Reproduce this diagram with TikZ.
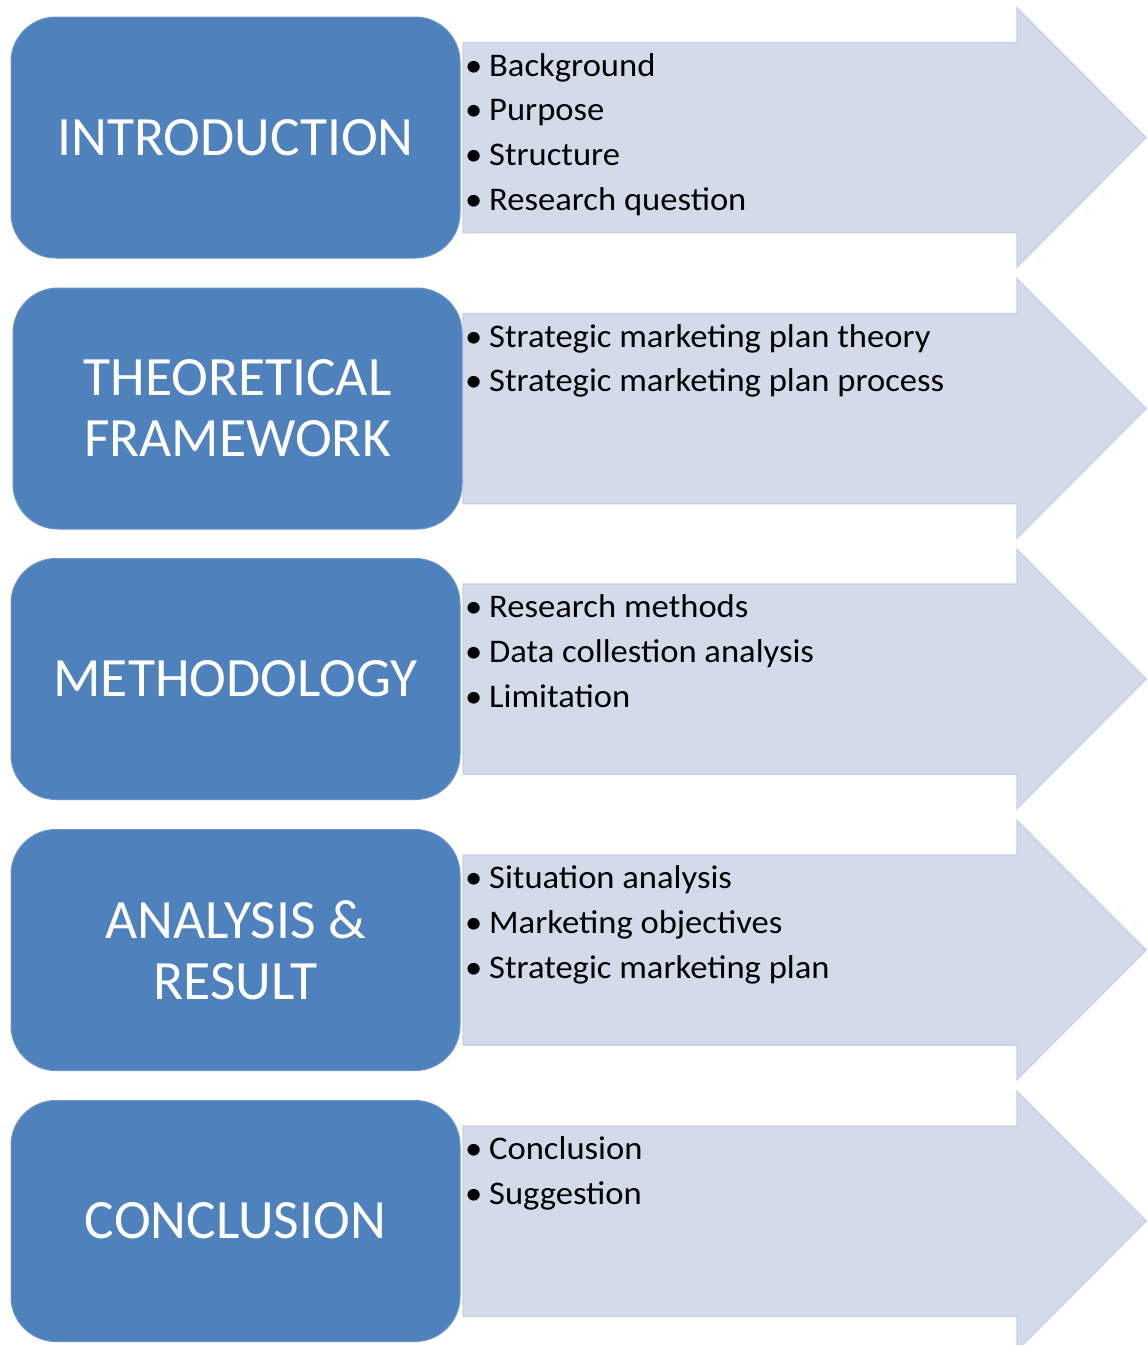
\documentclass[tikz,border=0pt]{standalone}
\usepackage{fontspec}
\setmainfont{Carlito}
\newfontfamily\listfont[FakeStretch=1.048]{Carlito}
\definecolor{boxblue}{HTML}{4F81BD}
\definecolor{arrfill}{HTML}{D3DBEB}
\definecolor{arrline}{HTML}{C9D3E7}
\newcommand\itm[1]{\strut\makebox[24pt][l]{\textbullet}#1}
\newcommand\rowarrow[1]{%
  \draw[arrowshape] (463,{#1-95}) -- (1017,{#1-95}) -- (1017,{#1-129.5}) -- (1146,#1)
    -- (1017,{#1+129.5}) -- (1017,{#1+95}) -- (463,{#1+95}) -- cycle;}
\begin{document}
\begin{tikzpicture}[x=1pt,y=-1pt,
  stagebox/.style={fill=boxblue, draw=boxblue!85!white, line width=1pt, rounded corners=45pt,
    minimum width=449pt, minimum height=241pt, inner sep=0pt, text=white, align=center,
    font=\fontsize{55.5}{61}\selectfont},
  arrowshape/.style={fill=arrfill, draw=arrline, line width=1.5pt, line join=miter},
  itemlist/.style={anchor=north west, inner sep=0pt, align=left,
    font=\listfont\fontsize{33}{44.7}\selectfont}]
\useasboundingbox (0,0) rectangle (1148,1345);
\fill[white] (0,0) rectangle (1148,1345);
% arrows
\rowarrow{137.5}
\rowarrow{408.5}
\rowarrow{679}
\rowarrow{950}
\rowarrow{1221}
% stage boxes
\node[stagebox] (intro) at (235.5,137.5) {INTRODUCTION};
\node[stagebox] (theory) at (237.5,408.5) {THEORETICAL\\FRAMEWORK};
\node[stagebox] (method) at (235.5,679) {METHODOLOGY};
\node[stagebox] (analysis) at (235.5,950) {ANALYSIS \&\\RESULT};
\node[stagebox] (concl) at (235.5,1221) {CONCLUSION};
% item lists
\node[itemlist] (introlist) at (465,44.7) {\itm{Background}\\\itm{Purpose}\\\itm{Structure}\\\itm{Research question}};
\node[itemlist] (theorylist) at (465,315.7) {\itm{Strategic marketing plan theory}\\\itm{Strategic marketing plan process}};
\node[itemlist] (methodlist) at (465,586.2) {\itm{Research methods}\\\itm{Data collestion analysis}\\\itm{Limitation}};
\node[itemlist] (analysislist) at (465,857.2) {\itm{Situation analysis}\\\itm{Marketing objectives}\\\itm{Strategic marketing plan}};
\node[itemlist] (concllist) at (465,1128.2) {\itm{Conclusion}\\\itm{Suggestion}};
\end{tikzpicture}
\end{document}
